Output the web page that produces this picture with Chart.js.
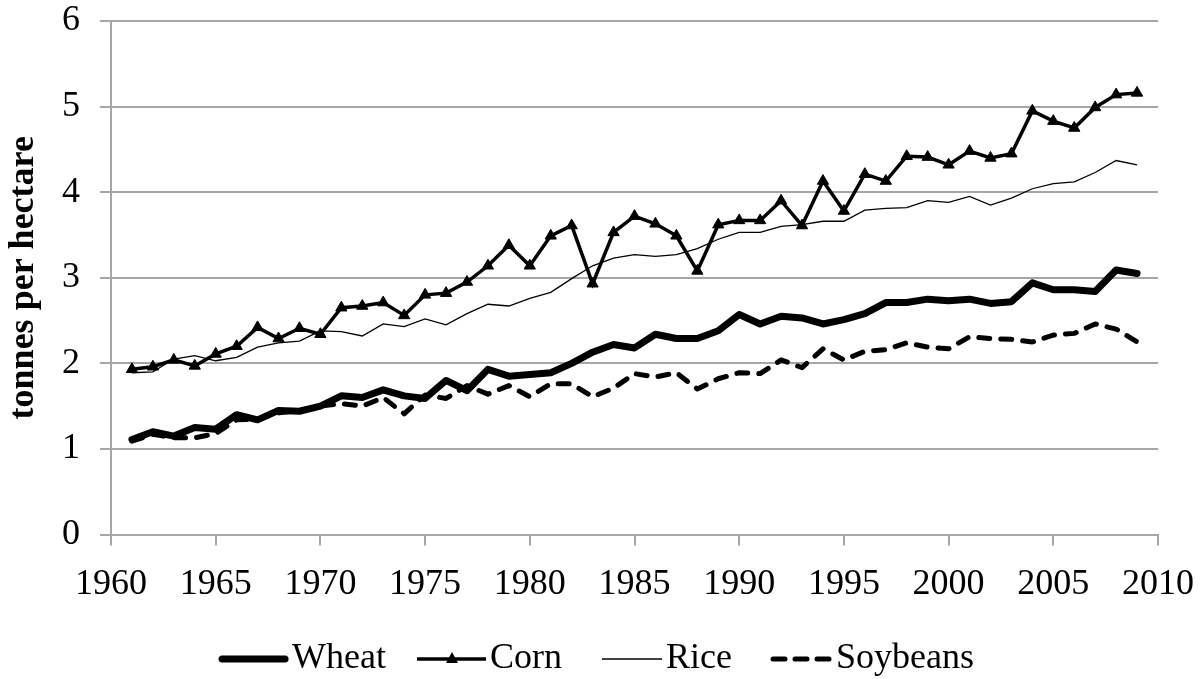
<!DOCTYPE html>
<html>
<head>
<meta charset="utf-8">
<script src="https://cdn.jsdelivr.net/npm/chart.js@4/dist/chart.umd.min.js"></script>
<style>
html,body{margin:0;padding:0;background:#fff;overflow:hidden;}
#wrap{position:relative;width:1203px;height:679px;}
</style>
</head>
<body>
<div id="wrap"><canvas id="c"></canvas></div>
<script>
const years = [1961,1962,1963,1964,1965,1966,1967,1968,1969,1970,
  1971,1972,1973,1974,1975,1976,1977,1978,1979,1980,
  1981,1982,1983,1984,1985,1986,1987,1988,1989,1990,
  1991,1992,1993,1994,1995,1996,1997,1998,1999,2000,
  2001,2002,2003,2004,2005,2006,2007,2008,2009];
const wheat = [1.11,1.20,1.15,1.25,1.23,1.40,1.34,1.45,1.44,1.50,
  1.62,1.60,1.69,1.62,1.59,1.80,1.68,1.93,1.85,1.87,
  1.89,2.00,2.13,2.22,2.18,2.34,2.29,2.29,2.38,2.57,
  2.46,2.55,2.53,2.46,2.51,2.58,2.71,2.71,2.75,2.73,
  2.75,2.70,2.72,2.94,2.86,2.86,2.84,3.09,3.05];
const corn = [1.93,1.96,2.04,1.97,2.11,2.20,2.42,2.29,2.41,2.34,
  2.65,2.67,2.71,2.56,2.80,2.82,2.95,3.14,3.38,3.14,
  3.49,3.61,2.93,3.53,3.72,3.63,3.49,3.08,3.62,3.67,
  3.67,3.90,3.61,4.13,3.78,4.21,4.13,4.42,4.41,4.32,
  4.48,4.40,4.45,4.95,4.83,4.75,4.99,5.14,5.16];
const rice = [1.89,1.90,2.05,2.09,2.03,2.07,2.19,2.24,2.26,2.38,
  2.37,2.32,2.46,2.43,2.52,2.45,2.58,2.69,2.67,2.76,
  2.83,2.99,3.14,3.23,3.27,3.25,3.27,3.34,3.45,3.53,
  3.53,3.60,3.62,3.66,3.66,3.79,3.81,3.82,3.90,3.88,
  3.95,3.85,3.93,4.04,4.10,4.12,4.23,4.37,4.32];
const soybeans = [1.09,1.17,1.13,1.13,1.18,1.34,1.35,1.42,1.45,1.50,
  1.53,1.50,1.60,1.41,1.63,1.59,1.74,1.64,1.74,1.61,
  1.76,1.76,1.61,1.71,1.88,1.84,1.89,1.70,1.82,1.89,
  1.88,2.04,1.95,2.17,2.04,2.14,2.16,2.24,2.19,2.17,
  2.31,2.29,2.28,2.25,2.33,2.35,2.46,2.40,2.25];
const xTicks = [1960,1965,1970,1975,1980,1985,1990,1995,2000,2005,2010];
const yTicks = [0,1,2,3,4,5,6];
const seriesNames = ['Wheat','Corn','Rice','Soybeans'];
const yTitle = 'tonnes per hectare';

const FONT = "'Liberation Serif','Times New Roman',serif";
const FS = 36;
const GRID = '#a6a6a6';

function pts(arr){ return years.map((y,i)=>({x:y, y:arr[i]})); }

// legend symbol images
const BOXW = 76, EXT = 16;
function legendIcon(kind){
  const c = document.createElement('canvas');
  c.width = BOXW + 2*EXT; c.height = 24;
  const g = c.getContext('2d');
  const end = BOXW + EXT + EXT - 2;
  const cy = 12;
  g.strokeStyle = '#000'; g.fillStyle = '#000';
  if (kind === 'Wheat') {
    g.lineWidth = 7; g.lineCap = 'round';
    g.beginPath(); g.moveTo(end-66, cy); g.lineTo(end-3, cy); g.stroke();
  } else if (kind === 'Corn') {
    g.lineWidth = 3.5;
    g.beginPath(); g.moveTo(end-69, cy); g.lineTo(end, cy); g.stroke();
    const mx = end - 34;
    g.beginPath(); g.moveTo(mx, cy-7); g.lineTo(mx+6, cy+4); g.lineTo(mx-6, cy+4); g.closePath(); g.fill();
  } else if (kind === 'Rice') {
    g.lineWidth = 1.3;
    g.beginPath(); g.moveTo(end-60, cy); g.lineTo(end, cy); g.stroke();
  } else {
    g.lineWidth = 5; g.lineCap = 'round';
    const s = end - 59;
    for (let k=0;k<3;k++){
      const a = s + k*22;
      g.beginPath(); g.moveTo(a, cy); g.lineTo(a+12, cy); g.stroke();
    }
  }
  return c;
}
const icons = seriesNames.map(legendIcon);

const legendFitPatch = {
  id: 'legendFitPatch',
  afterInit(chart){
    const lg = chart.legend;
    if (!lg) return;
    const f = lg.fit.bind(lg);
    lg.fit = function(){ f(); this.height = 48; };
  },
  afterLayout(chart){
    if (chart.legend) chart.legend.right += 14;
  }
};

new Chart(document.getElementById('c'), {
  type: 'line',
  data: {
    datasets: [
      { label: seriesNames[0], data: pts(wheat), borderColor:'#000', backgroundColor:'#000',
        borderWidth: 7, pointRadius: 0, borderJoinStyle:'round', borderCapStyle:'round', tension:0, order: 4 },
      { label: seriesNames[1], data: pts(corn), borderColor:'#000', backgroundColor:'#000',
        borderWidth: 3.5, pointStyle:'triangle', pointRadius: 6.5, pointBorderWidth: 1,
        pointBackgroundColor:'#000', pointBorderColor:'#000', tension:0, order: 3 },
      { label: seriesNames[2], data: pts(rice), borderColor:'#000', backgroundColor:'#000',
        borderWidth: 1.3, pointRadius: 0, tension:0, order: 2 },
      { label: seriesNames[3], data: pts(soybeans), borderColor:'#000', backgroundColor:'#000',
        borderWidth: 5, borderDash:[11,11], borderCapStyle:'round', borderJoinStyle:'round',
        pointRadius: 0, tension:0, order: 1 }
    ]
  },
  options: {
    responsive: true,
    maintainAspectRatio: false,
    animation: false,
    events: [],
    layout: { padding: { top: 21, right: 45, left: 0, bottom: 0 } },
    scales: {
      x: {
        type: 'linear', min: 1960, max: 2010,
        afterBuildTicks: s => { s.ticks = xTicks.map(v => ({value: v})); },
        afterFit: s => { s.height = 96.5; s.paddingLeft = 0; s.paddingRight = 0; },
        ticks: { callback: v => String(v), color:'#000', font:{family:FONT, size:FS}, padding: 17, maxRotation:0, autoSkip:false },
        grid: { drawOnChartArea:false, drawTicks:true, tickLength:11, color:GRID, lineWidth:2 },
        border: { color:GRID, width:2 }
      },
      y: {
        min: 0, max: 6,
        afterBuildTicks: s => { s.ticks = yTicks.map(v => ({value: v})); },
        afterFit: s => { s.width = 111; s.paddingTop = 0; s.paddingBottom = 0; },
        ticks: { color:'#000', font:{family:FONT, size:FS}, padding: 20 },
        grid: { color:GRID, lineWidth:2, tickLength:11, drawTicks:true },
        border: { color:GRID, width:2 },
        title: { display:true, text: yTitle, color:'#000', font:{family:FONT, size:FS, weight:'bold'}, padding:{top:2,bottom:0} }
      }
    },
    plugins: {
      tooltip: { enabled:false },
      legend: {
        display: true, position: 'bottom',
        labels: {
          usePointStyle: true, pointStyleWidth: BOXW, padding: 10,
          color:'#000', font:{family:FONT, size:FS},
          generateLabels: chart => seriesNames.map((n,i) => ({
            text: n, pointStyle: icons[i], fillStyle:'#000', strokeStyle:'#000',
            lineWidth: 0, hidden:false, datasetIndex:i, fontColor:'#000'
          }))
        }
      }
    }
  },
  plugins: [legendFitPatch]
});
</script>
</body>
</html>
